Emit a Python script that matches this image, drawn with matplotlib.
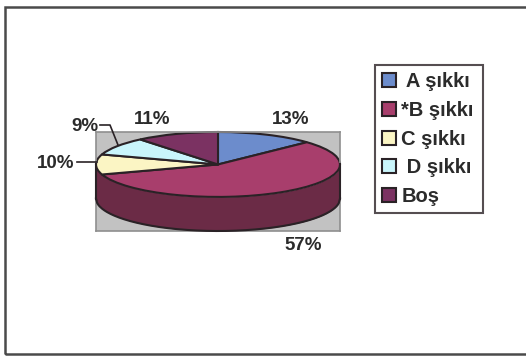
import matplotlib
matplotlib.use('Agg')
import matplotlib.pyplot as plt
import numpy as np

labels = [' A şıkkı', '*B şıkkı', 'C şıkkı', ' D şıkkı', 'Boş']
values = [13, 57, 10, 9, 11]
colors = ['#6c8ccc', '#a83e6c', '#fbf5c4', '#c9f5fb', '#7b3262']
pct_labels = ['13%', '57%', '10%', '9%', '11%']
pct_pos = [(291, 119), (303, 245), (56, 164), (85, 127), (152, 119)]

side_color = '#6b2b46'
edge = '#2a2226'
W, H = 526, 356
depth = 1.05

plt.rcParams['font.family'] = ['Liberation Sans', 'DejaVu Sans']
plt.rcParams['font.weight'] = 'bold'

fig = plt.figure(figsize=(W / 100, H / 100), dpi=100)

def px(x, y):
    return x / W, 1 - y / H

# outer frame, runs off the right side of the scan
l, t = px(5, 7)
r, b = px(535, 354)
fig.add_artist(plt.Rectangle((l, b), r - l, t - b, transform=fig.transFigure,
                             fill=False, ec='#4a4a4a', lw=1.8))

# axes box is the grey plot area
x0, y1 = px(96, 132)
x1, y0 = px(340, 231)
ax = fig.add_axes([x0, y0, x1 - x0, y1 - y0])
ax.set_facecolor('#c2c2c2')

wedges, _ = ax.pie(values, colors=colors, startangle=90, counterclock=False, radius=1,
                   wedgeprops={'edgecolor': edge, 'linewidth': 1.5}, frame=True)
ax.set_aspect('auto')
ax.set_xlim(-1, 1)
ax.set_ylim(-1 - depth, 1)
ax.set_xticks([])
ax.set_yticks([])
for s in ax.spines.values():
    s.set_color('#8f8f8f')
    s.set_linewidth(1.2)

# side wall of the 3d pie
xs = np.linspace(-1, 1, 200)
low = -np.sqrt(1 - xs ** 2)
ax.fill_between(xs, low - depth, low, color=side_color, zorder=0.5, lw=0)
ax.plot(xs, low - depth, color=edge, lw=1.5, zorder=3, clip_on=False)
ax.plot([-1, -1], [0, -depth], color=edge, lw=1.5, zorder=3, clip_on=False)
ax.plot([1, 1], [0, -depth], color=edge, lw=1.5, zorder=3, clip_on=False)

for txt, (x, y) in zip(pct_labels, pct_pos):
    fx, fy = px(x, y)
    fig.text(fx, fy, txt, fontsize=13.5, color='#2b2b2b', ha='center', va='center')

# leader lines for 10% and 9%
for pts in [[(77, 162), (97, 162)], [(100, 125), (110, 125), (118, 145)]]:
    p = [px(x, y) for x, y in pts]
    fig.add_artist(plt.Line2D([q[0] for q in p], [q[1] for q in p],
                              transform=fig.transFigure, color=edge, lw=1.2))

lx, ly = px(375, 213)
rx, ry = px(483, 64)
leg = fig.legend(wedges, labels, loc='lower left', bbox_to_anchor=(lx, ly, rx - lx, ry - ly),
                 mode='expand', fontsize=14.5, frameon=True, fancybox=False,
                 edgecolor=edge, borderpad=0.35, labelspacing=0.48, handlelength=0.7,
                 handleheight=0.7, handletextpad=0.25, borderaxespad=0, labelcolor='#2b2b2b')
leg.get_frame().set_linewidth(1.5)

fig.savefig('out.png', dpi=100)
